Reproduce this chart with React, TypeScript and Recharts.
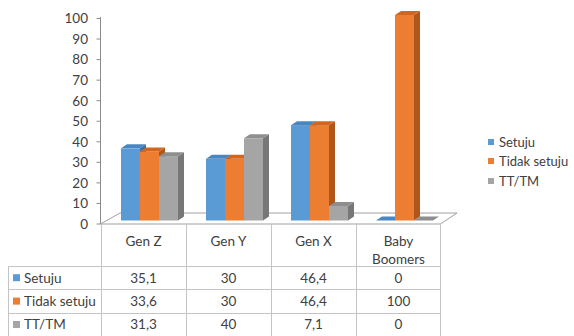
import React from 'react';
import { BarChart, Bar, XAxis, YAxis } from 'recharts';

const categories = ['Gen Z', 'Gen Y', 'Gen X', 'Baby Boomers'];
const setuju = [35.1, 30, 46.4, 0];
const tidakSetuju = [33.6, 30, 46.4, 100];
const ttTm = [31.3, 40, 7.1, 0];
const yTicks = [0, 10, 20, 30, 40, 50, 60, 70, 80, 90, 100];

const series = [
  { key: 'setuju', name: 'Setuju', values: setuju, color: '#5B9BD5', top: '#4A86C2', side: '#3D6FA0' },
  { key: 'tidakSetuju', name: 'Tidak setuju', values: tidakSetuju, color: '#ED7D31', top: '#D0661F', side: '#AE561B' },
  { key: 'ttTm', name: 'TT/TM', values: ttTm, color: '#A5A5A5', top: '#8E8E8E', side: '#777777' },
];

const data = categories.map((name, i) => {
  const row: Record<string, any> = { name };
  series.forEach((s) => (row[s.key] = s.values[i]));
  return row;
});

const W = 574;
const H = 336;
const PLOT_L = 101;
const PLOT_R = 441;
const PLOT_TOP = 15;
const PLOT_BOTTOM = 220.5;
const CHART_H = 232;
const FONT = 'Lato, "Open Sans", sans-serif';
const TEXT = '#404040';

// fake 3d depth
const DX = 6;
const DY = 4;
const SHIFT = 6;

const makeShape = (s: typeof series[number]) => (props: any) => {
  const { x, y, width, height } = props;
  const fx = x + SHIFT;
  const h = Math.max(0, height);
  return (
    <g>
      <rect x={fx} y={y} width={width} height={h} fill={s.color} />
      <polygon
        points={`${fx + width},${y} ${fx + width + DX},${y - DY} ${fx + width + DX},${y + h - DY} ${fx + width},${y + h}`}
        fill={s.side}
      />
      <polygon
        points={`${fx},${y} ${fx + DX},${y - DY} ${fx + width + DX},${y - DY} ${fx + width},${y}`}
        fill={s.top}
      />
    </g>
  );
};

const YTick = (props: any) => {
  const { y, payload } = props;
  const ty = y + 3.5;
  return (
    <g>
      <line x1={96.5} x2={100.5} y1={ty} y2={ty} stroke="#8c8c8c" />
      <text x={88} y={ty} dy="0.36em" textAnchor="end" fill={TEXT} fontSize={13.5} fontFamily={FONT}>
        {payload.value}
      </text>
    </g>
  );
};

const ChartLegend = () => (
  <div style={{ position: 'absolute', left: 488, top: 132, fontFamily: FONT, fontSize: 13, color: TEXT }}>
    {series.map((s) => (
      <div key={s.key} style={{ display: 'flex', alignItems: 'center', height: 19.5 }}>
        <span style={{ width: 6, height: 6, background: s.color, marginRight: 5, display: 'inline-block' }} />
        {s.name}
      </div>
    ))}
  </div>
);

const fmt = (v: number) => String(v).replace('.', ',');

const colX = categories.map((_, i) => PLOT_L + (i * (PLOT_R - PLOT_L)) / categories.length);
const colW = (PLOT_R - PLOT_L) / categories.length;
const FLOOR_FRONT = 224;
const FLOOR_BACK = 213;
const HEADER_BOTTOM = 266;
const ROW_H = 23.4;
const TABLE_L = 8;

const Underlay = () => (
  <svg width={W} height={H} style={{ position: 'absolute', left: 0, top: 0 }}>
    <line x1={100.5} x2={100.5} y1={17} y2={FLOOR_FRONT} stroke="#8c8c8c" />
    <polygon
      points={`${100.5},${FLOOR_FRONT} ${120},${FLOOR_BACK} ${457},${FLOOR_BACK} ${PLOT_R - 0.5},${FLOOR_FRONT}`}
      fill="none"
      stroke="#a0a0a0"
    />
  </svg>
);

const Table = () => {
  const lc = '#c4c4c4';
  return (
    <svg width={W} height={H} style={{ position: 'absolute', left: 0, top: 0 }}>
      {colX.map((x, i) => (
        <line key={'v' + i} x1={x + 0.5} x2={x + 0.5} y1={FLOOR_FRONT} y2={H} stroke={lc} />
      ))}
      <line x1={PLOT_R - 0.5} x2={PLOT_R - 0.5} y1={FLOOR_FRONT} y2={H} stroke={lc} />
      <line x1={TABLE_L + 0.5} x2={TABLE_L + 0.5} y1={HEADER_BOTTOM} y2={H} stroke={lc} />
      {[0, 1, 2, 3].map((r) => (
        <line
          key={'h' + r}
          x1={TABLE_L}
          x2={PLOT_R}
          y1={Math.round(HEADER_BOTTOM + r * ROW_H) + 0.5}
          y2={Math.round(HEADER_BOTTOM + r * ROW_H) + 0.5}
          stroke={lc}
        />
      ))}
      {categories.map((c, i) => {
        const lines = c.length > 8 ? c.split(' ') : [c];
        return lines.map((t, k) => (
          <text
            key={c + k}
            x={colX[i] + colW / 2}
            y={241 + k * 18}
            dy="0.36em"
            textAnchor="middle"
            fill={TEXT}
            fontSize={13.5}
            fontFamily={FONT}
          >
            {t}
          </text>
        ));
      })}
      {series.map((s, r) => {
        const cy = HEADER_BOTTOM + r * ROW_H + ROW_H / 2;
        return (
          <g key={s.key}>
            <rect x={13} y={cy - 3.5} width={7} height={7} fill={s.color} />
            <text x={24} y={cy} dy="0.36em" fill={TEXT} fontSize={13.5} fontFamily={FONT}>
              {s.name}
            </text>
            {s.values.map((v, i) => (
              <text
                key={i}
                x={colX[i] + colW / 2}
                y={cy}
                dy="0.36em"
                textAnchor="middle"
                fill={TEXT}
                fontSize={13.5}
                fontFamily={FONT}
              >
                {fmt(v)}
              </text>
            ))}
          </g>
        );
      })}
    </svg>
  );
};

export default function App() {
  return (
    <div style={{ position: 'absolute', left: 0, top: 0, width: W, height: H, background: '#fff' }}>
      <Underlay />
      <div style={{ position: 'absolute', left: 0, top: 0 }}>
        <BarChart
          width={W}
          height={CHART_H}
          data={data}
          barGap={0}
          barCategoryGap={14}
          margin={{ top: PLOT_TOP, right: W - PLOT_R, left: 0, bottom: CHART_H - PLOT_BOTTOM }}
        >
          <XAxis dataKey="name" hide />
          <YAxis
            domain={[0, 100]}
            ticks={yTicks}
            width={PLOT_L}
            axisLine={false}
            tickLine={false}
            tick={<YTick />}
            interval={0}
          />
          {series.map((s) => (
            <Bar
              key={s.key}
              dataKey={s.key}
              name={s.name}
              fill={s.color}
              barSize={19}
              shape={makeShape(s)}
              isAnimationActive={false}
            />
          ))}
        </BarChart>
      </div>
      <ChartLegend />
      <Table />
    </div>
  );
}
